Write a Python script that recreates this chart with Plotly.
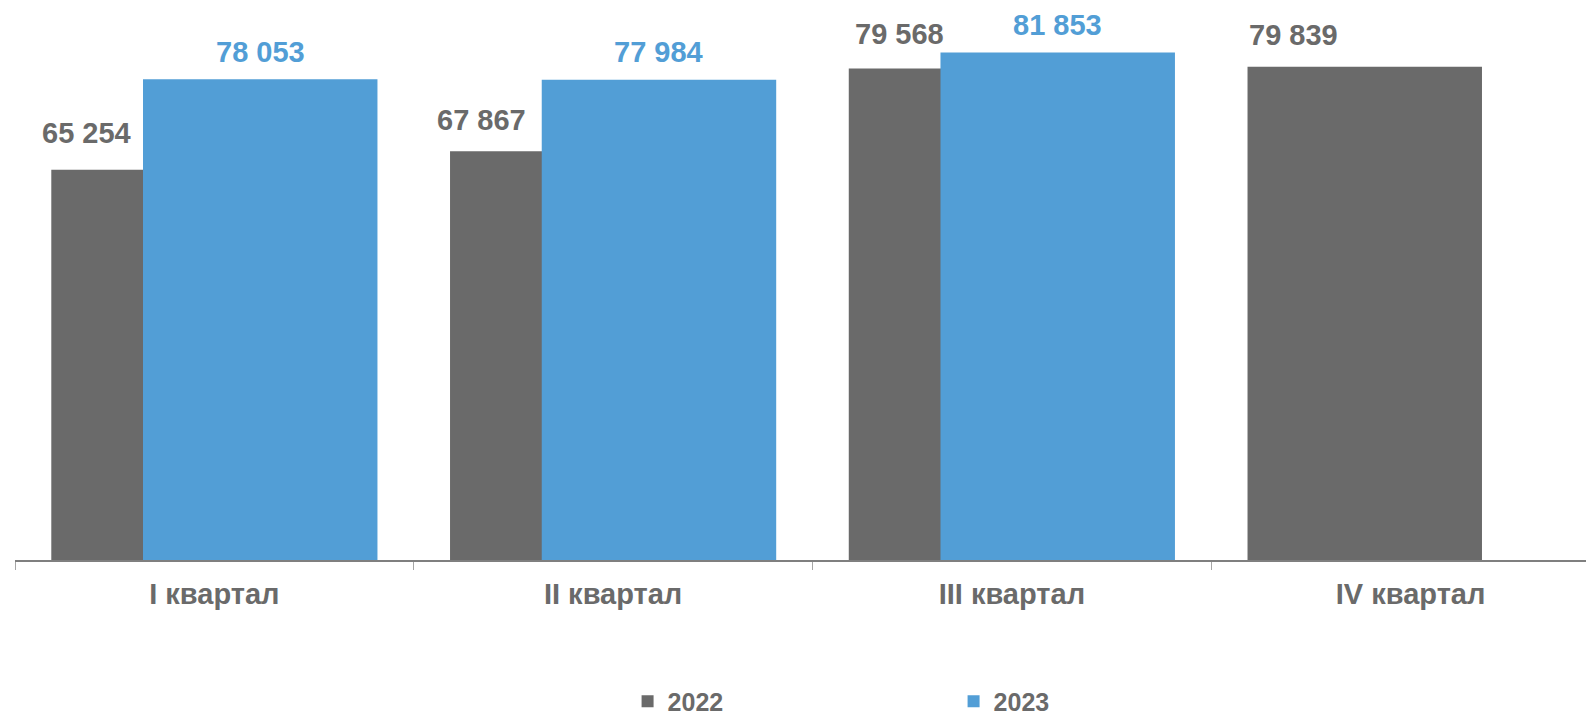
import plotly.graph_objects as go

categories = ["I квартал", "II квартал", "III квартал", "IV квартал"]
values_2022 = [65254, 67867, 79568, 79839]
values_2023 = [78053, 77984, 81853]
series_names = ["2022", "2023"]

GRAY = "#6A6A6A"
BLUE = "#529ED6"
FONT = "Liberation Sans, Arial, sans-serif"

# label placement (pixels relative to category centre / bar top)
dx_2022 = [-127.6, -132, -112, -117.4]
dy_2022 = [37, 31, 35, 31.5]
dx_2023 = [45.7, 45.5, 45.3]
dy_2023 = [27.5, 27.5, 27]

BAR_W = 0.588

fig = go.Figure()
fig.add_trace(go.Bar(
    x=categories, y=values_2022, name=series_names[0],
    marker=dict(color=GRAY, line=dict(width=0)),
    width=BAR_W, offset=-0.409,
))
fig.add_trace(go.Bar(
    x=categories[:len(values_2023)], y=values_2023, name=series_names[1],
    marker=dict(color=BLUE, line=dict(width=0)),
    width=BAR_W, offset=-0.179,
))

def fmt(v):
    return f"{v:,}".replace(",", " ")

annotations = []
for c, v, dx, dy in zip(categories, values_2022, dx_2022, dy_2022):
    annotations.append(dict(
        x=c, y=v, xref="x", yref="y", text=fmt(v), showarrow=False,
        xanchor="center", yanchor="middle", xshift=dx, yshift=dy,
        font=dict(family=FONT, size=29, color=GRAY, weight="bold"),
    ))
for c, v, dx, dy in zip(categories, values_2023, dx_2023, dy_2023):
    annotations.append(dict(
        x=c, y=v, xref="x", yref="y", text=fmt(v), showarrow=False,
        xanchor="center", yanchor="middle", xshift=dx, yshift=dy,
        font=dict(family=FONT, size=29, color=BLUE, weight="bold"),
    ))

fig.update_layout(
    width=1594, height=715,
    margin=dict(l=7, r=0, t=1, b=163),
    paper_bgcolor="white", plot_bgcolor="white",
    barmode="overlay",
    showlegend=True,
    legend=dict(
        orientation="h", x=0.386, xanchor="left",
        yref="container", y=0.03, yanchor="middle",
        font=dict(family=FONT, size=25, color=GRAY, weight="bold"),
        entrywidth=281, entrywidthmode="pixels",
        bgcolor="rgba(0,0,0,0)",
    ),
    annotations=annotations,
    xaxis=dict(
        type="category", categoryorder="array", categoryarray=categories,
        range=[-0.5, 3.48],
        showline=True, linecolor="#7F7F7F", linewidth=2,
        ticks="outside", tickson="boundaries", ticklen=8, tickcolor="#A6A6A6", tickwidth=1,
        tickfont=dict(family=FONT, size=29, color=GRAY, weight="bold"),
        ticklabelstandoff=7,
        showgrid=False, zeroline=False,
    ),
    yaxis=dict(
        range=[10000, 88000], visible=False, showgrid=False, zeroline=False,
    ),
)

fig.write_html("out.html")
